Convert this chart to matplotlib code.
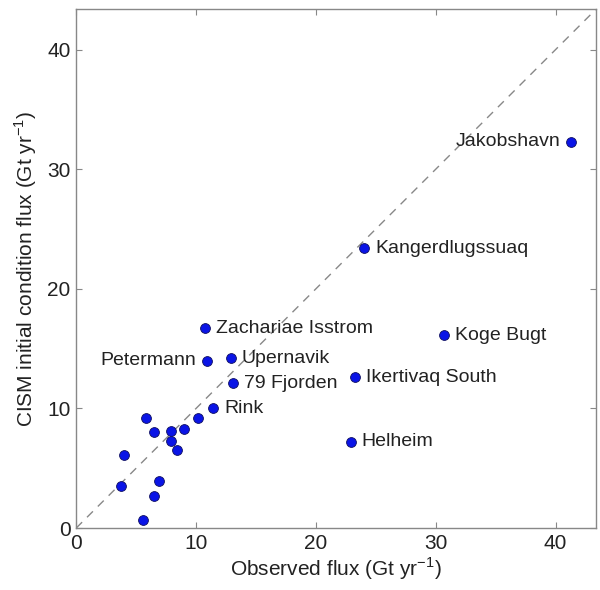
import matplotlib
matplotlib.use('Agg')
import matplotlib.pyplot as plt

plt.rcParams['font.family'] = ['Liberation Sans', 'DejaVu Sans']
plt.rcParams['mathtext.fontset'] = 'custom'
plt.rcParams['mathtext.rm'] = 'Liberation Sans'

# Named glaciers: observed flux, CISM flux, label side
names = ['Jakobshavn', 'Kangerdlugssuaq', 'Koge Bugt', 'Ikertivaq South', 'Helheim',
         'Zachariae Isstrom', 'Petermann', 'Upernavik', '79 Fjorden', 'Rink']
obs_named = [41.3, 24.0, 30.7, 23.25, 22.9, 10.75, 10.9, 12.9, 13.1, 11.4]
cism_named = [32.3, 23.4, 16.1, 12.6, 7.2, 16.7, 14.0, 14.2, 12.1, 10.0]
sides = ['left', 'right', 'right', 'right', 'right', 'right', 'left', 'right', 'right', 'right']

# Unlabeled glaciers
obs_other = [10.2, 5.8, 6.5, 7.9, 9.0, 7.9, 8.4, 4.0, 3.7, 6.9, 6.5, 5.6]
cism_other = [9.2, 9.2, 8.0, 8.1, 8.25, 7.3, 6.5, 6.1, 3.5, 3.9, 2.7, 0.64]

lim = 43.4
ticks = [0, 10, 20, 30, 40]

fig = plt.figure(figsize=(6.0, 5.9), dpi=100)
ax = fig.add_axes([0.127, 0.105, 0.867, 0.880])

ax.plot([0, lim], [0, lim], linestyle=(0, (6, 5)), color='#888888', linewidth=1.0, zorder=1)

ax.scatter(obs_named + obs_other, cism_named + cism_other, s=50, c='#0a14e6',
           edgecolors='#101060', linewidths=0.6, zorder=3)

for n, x, y, side in zip(names, obs_named, cism_named, sides):
    if side == 'right':
        ax.annotate(n, (x, y), xytext=(8, 0), textcoords='offset points',
                    ha='left', va='center', fontsize=14, color='#222222')
    else:
        ax.annotate(n, (x, y), xytext=(-8, 0), textcoords='offset points',
                    ha='right', va='center', fontsize=14, color='#222222')

ax.set_xlim(0, lim)
ax.set_ylim(0, lim)
ax.set_xticks(ticks)
ax.set_yticks(ticks)
ax.tick_params(direction='in', length=4, width=0.8, colors='#888888',
               labelcolor='#222222', labelsize=15, top=True, right=True, pad=4)
for sp in ax.spines.values():
    sp.set_color('#888888')
    sp.set_linewidth(1.0)

ax.set_xlabel('Observed flux (Gt yr$^{-1}$)', fontsize=15, color='#222222', labelpad=2)
ax.set_ylabel('CISM initial condition flux (Gt yr$^{-1}$)', fontsize=15, color='#222222', labelpad=6)

fig.savefig('out.png', dpi=100, facecolor='white')
